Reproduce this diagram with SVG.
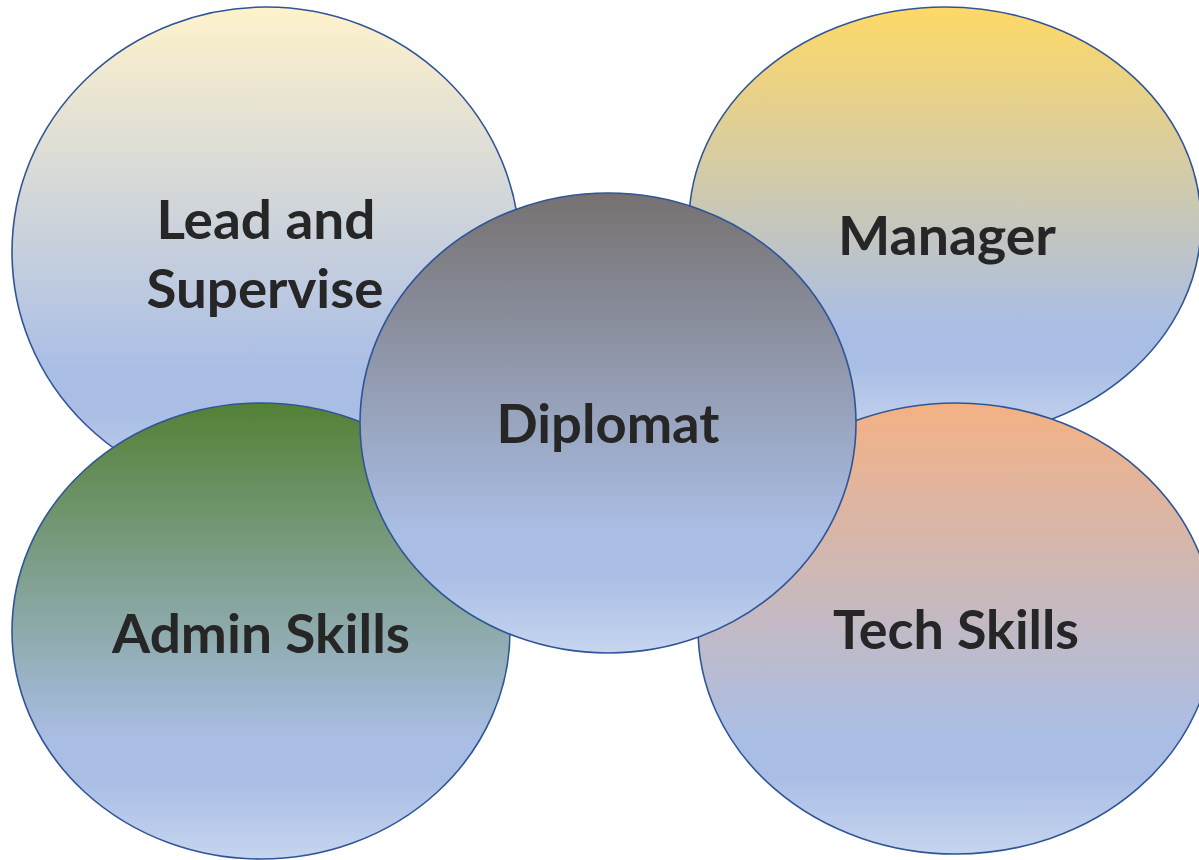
<svg xmlns="http://www.w3.org/2000/svg" width="1199" height="860" viewBox="0 0 1199 860">
  <defs>
    <linearGradient id="gLead" x1="0" y1="0" x2="0" y2="1">
      <stop offset="0" stop-color="#FFF2CC"/>
      <stop offset="0.74" stop-color="#AABEE5"/>
      <stop offset="0.83" stop-color="#AABEE5"/>
      <stop offset="1" stop-color="#C6D5EF"/>
    </linearGradient>
    <linearGradient id="gManager" x1="0" y1="0" x2="0" y2="1">
      <stop offset="0" stop-color="#FFD966"/>
      <stop offset="0.74" stop-color="#AABEE5"/>
      <stop offset="0.83" stop-color="#AABEE5"/>
      <stop offset="1" stop-color="#C6D5EF"/>
    </linearGradient>
    <linearGradient id="gAdmin" x1="0" y1="0" x2="0" y2="1">
      <stop offset="0" stop-color="#538135"/>
      <stop offset="0.74" stop-color="#AABEE5"/>
      <stop offset="0.83" stop-color="#AABEE5"/>
      <stop offset="1" stop-color="#C6D5EF"/>
    </linearGradient>
    <linearGradient id="gTech" x1="0" y1="0" x2="0" y2="1">
      <stop offset="0" stop-color="#F4B183"/>
      <stop offset="0.74" stop-color="#AABEE5"/>
      <stop offset="0.83" stop-color="#AABEE5"/>
      <stop offset="1" stop-color="#C6D5EF"/>
    </linearGradient>
    <linearGradient id="gDiplomat" x1="0" y1="0" x2="0" y2="1">
      <stop offset="0" stop-color="#767171"/>
      <stop offset="0.74" stop-color="#AABEE5"/>
      <stop offset="0.83" stop-color="#AABEE5"/>
      <stop offset="1" stop-color="#C6D5EF"/>
    </linearGradient>
  </defs>
  <style>
    .shape { stroke: #2F5597; stroke-width: 1.6; }
    .label { font-family: Lato, "Open Sans", "Liberation Sans", sans-serif; font-weight: 700; font-size: 54px; fill: #262626; text-anchor: middle; }
  </style>
  <rect x="0" y="0" width="1199" height="860" fill="#FFFFFF"/>
  <g id="lead-and-supervise">
    <ellipse class="shape" cx="266" cy="252" rx="254" ry="245" fill="url(#gLead)"/>
    <text class="label" x="266" y="239" textLength="219" lengthAdjust="spacingAndGlyphs">Lead and</text>
    <text class="label" x="265" y="308" textLength="237" lengthAdjust="spacingAndGlyphs">Supervise</text>
  </g>
  <g id="manager">
    <ellipse class="shape" cx="945" cy="223" rx="256" ry="216" fill="url(#gManager)"/>
    <text class="label" x="947" y="255" textLength="218" lengthAdjust="spacingAndGlyphs">Manager</text>
  </g>
  <g id="admin-skills">
    <ellipse class="shape" cx="261" cy="631" rx="249" ry="228" fill="url(#gAdmin)"/>
    <text class="label" x="261" y="653" textLength="298" lengthAdjust="spacingAndGlyphs">Admin Skills</text>
  </g>
  <g id="tech-skills">
    <ellipse class="shape" cx="956" cy="628.5" rx="258" ry="225.5" fill="url(#gTech)"/>
    <text class="label" x="956" y="649" textLength="246" lengthAdjust="spacingAndGlyphs">Tech Skills</text>
  </g>
  <g id="diplomat">
    <ellipse class="shape" cx="608" cy="423" rx="248" ry="230" fill="url(#gDiplomat)"/>
    <text class="label" x="608" y="443" textLength="223" lengthAdjust="spacingAndGlyphs">Diplomat</text>
  </g>
  <g id="connectors"/>
</svg>
